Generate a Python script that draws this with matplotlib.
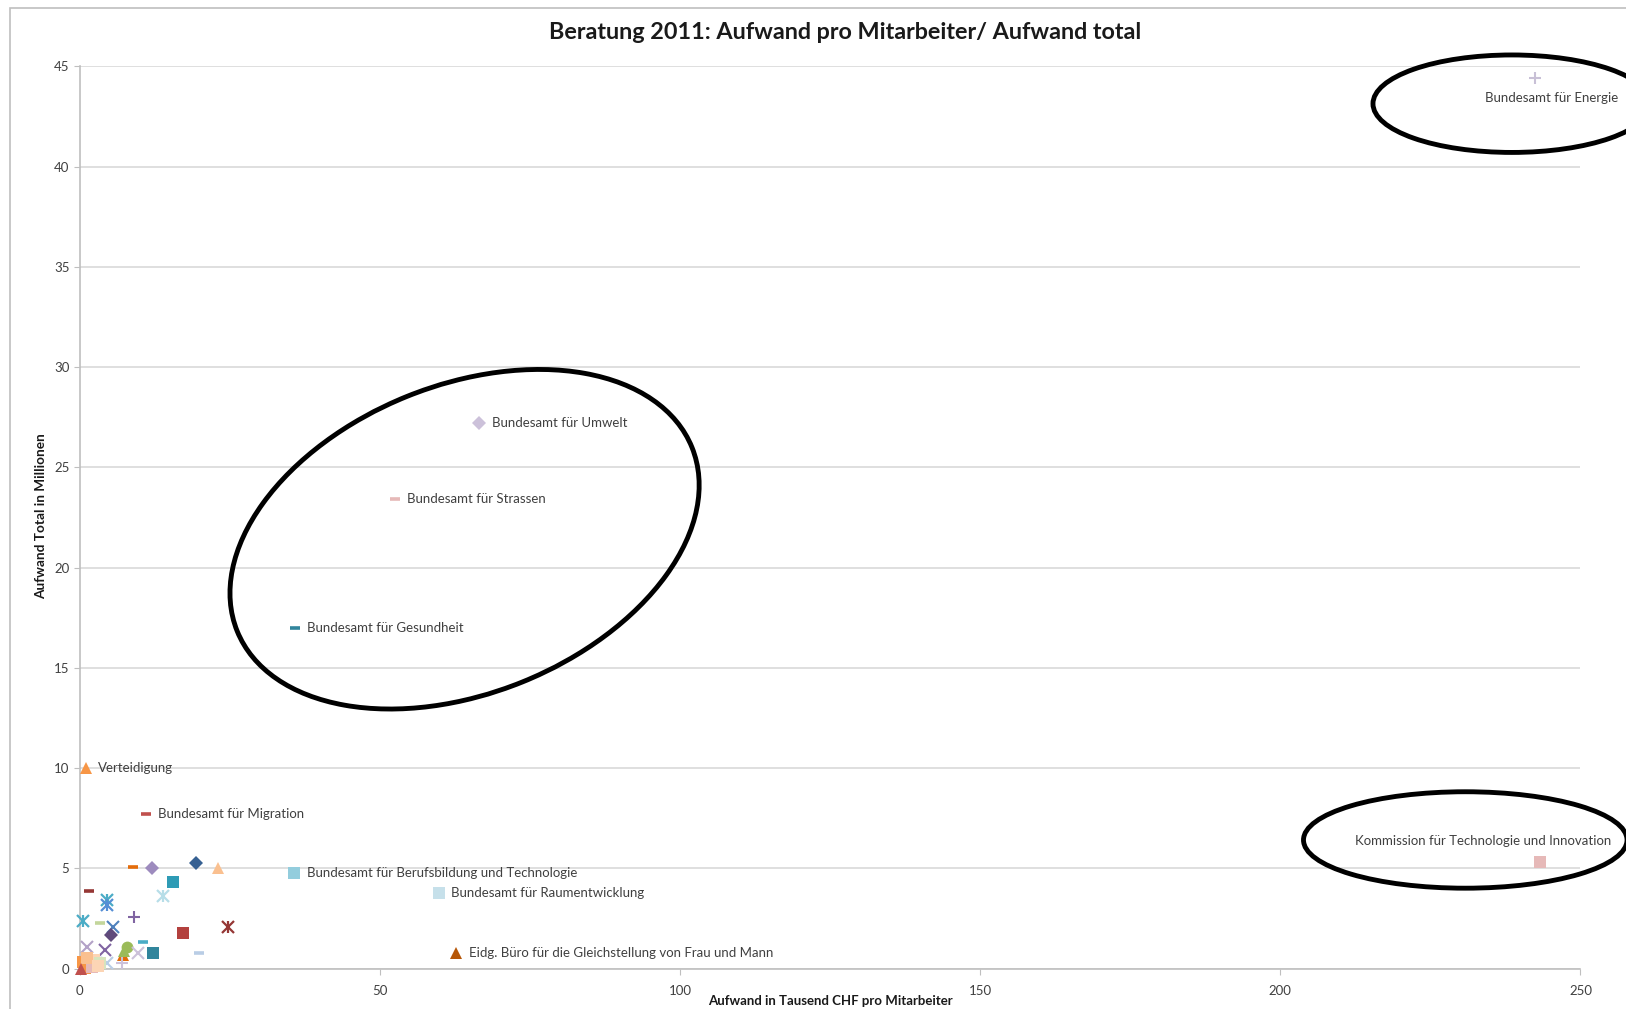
import matplotlib
matplotlib.use("Agg")
import matplotlib.pyplot as plt
from matplotlib.patches import Ellipse, Rectangle

plt.rcParams['font.family'] = ['Lato', 'DejaVu Sans']

title = "Beratung 2011: Aufwand pro Mitarbeiter/ Aufwand total"
x_label = "Aufwand in Tausend CHF pro Mitarbeiter"
y_label = "Aufwand Total in Millionen"

# labelled offices
names = ["Bundesamt für Energie",
         "Kommission für Technologie und Innovation",
         "Bundesamt für Umwelt",
         "Bundesamt für Strassen",
         "Bundesamt für Gesundheit",
         "Verteidigung",
         "Bundesamt für Migration",
         "Bundesamt für Berufsbildung und Technologie",
         "Bundesamt für Raumentwicklung",
         "Eidg. Büro für die Gleichstellung von Frau und Mann"]
lab_x = [242.4, 243.3, 66.5, 52.5, 35.8, 1.0, 11.0, 35.7, 59.8, 62.7]
lab_y = [44.4, 5.33, 27.2, 23.4, 17.0, 10.0, 7.7, 4.78, 3.78, 0.78]
lab_marker = ['+', 's', 'D', '_', '_', '^', '_', 's', 's', '^']
lab_color = ['#C8C0D6', '#E6B9B8', '#CCC1DA', '#E6B9B8', '#31859C', '#F79646',
             '#C0504D', '#93CDDD', '#C6E0EA', '#B65708']

# unlabelled offices (cluster near the origin)
cl_x = [8.9, 11.96, 19.3, 22.96, 15.6, 13.9, 1.57, 4.45, 4.45, 0.45, 3.35, 9.0,
        5.57, 5.13, 17.2, 24.7, 1.12, 4.2, 7.8, 10.46, 12.23, 19.9, 9.73, 7.23,
        6.96, 4.46, 0.6, 1.5, 2.4, 0.9, 3.35, 2.0, 1.2, 3.0, 0.2, 7.4]
cl_y = [5.05, 5.02, 5.25, 5.02, 4.33, 3.62, 3.89, 3.42, 3.17, 2.39, 2.29, 2.59,
        2.09, 1.68, 1.76, 2.09, 1.09, 0.93, 1.09, 1.34, 0.76, 0.79, 0.76, 0.68,
        0.26, 0.26, 0.35, 0.2, 0.45, 0.05, 0.26, 0.1, 0.55, 0.15, 0.0, 0.9]
cl_marker = ['_', 'D', 'D', '^', 's', 'star', '_', 'star', 'star', 'star', '_', '+',
             'x', 'D', 's', 'star', 'x', 'x', 'o', '_', 's', '_', 'x', '^',
             '+', 'x', 's', 's', 's', 's', 's', 's', 's', 's', '^', '^']
cl_color = ['#E46C0A', '#9D8BBE', '#366092', '#FAC090', '#2E9BB5', '#B7DEE8',
            '#953735', '#4BACC6', '#558ED5', '#4BACC6', '#C3D69B', '#8064A2',
            '#4F81BD', '#604A7B', '#B3413E', '#953735', '#B3A2C7', '#8064A2',
            '#9BBB59', '#4BACC6', '#31859C', '#B9CDE5', '#CCC1DA', '#E46C0A',
            '#CCC1DA', '#B9CDE5', '#F79646', '#FAC090', '#FCD5B5', '#F79646',
            '#D7E4BD', '#E6B9B8', '#FAC090', '#FCD5B5', '#C0504D', '#9BBB59']

# label offsets in points (dx, dy, ha)
lab_offset = [(60, -14, 'right'), (51, 15, 'right')] + [(9, 0, 'left')] * 8

fig = plt.figure(figsize=(16.26, 10.09), dpi=100)
ax = fig.add_axes([0.0491, 0.040, 0.9229, 0.8942])


def draw(ax, x, y, m, c):
    kw = dict(linestyle='none', clip_on=False, zorder=3)
    if m == 'star':
        ax.plot(x, y, marker='x', color=c, ms=8, mew=1.6, **kw)
        ax.plot(x, y, marker='|', color=c, ms=9, mew=1.6, **kw)
    elif m == '_':
        ax.plot(x, y, marker='_', color=c, ms=7, mew=2.6, **kw)
    elif m in ('+', 'x'):
        ax.plot(x, y, marker=m, color=c, ms=9, mew=1.5, **kw)
    elif m == 'D':
        ax.plot(x, y, marker='D', color=c, ms=7.5, mew=0, **kw)
    elif m == '^':
        ax.plot(x, y, marker='^', color=c, ms=9, mew=0, **kw)
    else:
        ax.plot(x, y, marker=m, color=c, ms=8.5, mew=0, **kw)


for x, y, m, c in zip(cl_x, cl_y, cl_marker, cl_color):
    draw(ax, x, y, m, c)

for n, x, y, m, c, (dx, dy, ha) in zip(names, lab_x, lab_y, lab_marker, lab_color, lab_offset):
    draw(ax, x, y, m, c)
    ax.annotate(n, (x, y), xytext=(dx, dy), textcoords='offset points',
                ha=ha, va='center', fontsize=9.5, color='#404040')

ax.set_xlim(0, 250)
ax.set_ylim(0, 45)
ax.set_xticks(range(0, 251, 50))
ax.set_yticks(range(0, 46, 5))
ax.grid(axis='y', color='#D9D9D9', lw=1.2)
ax.set_axisbelow(True)
for s in ['top', 'right']:
    ax.spines[s].set_visible(False)
for s in ['left', 'bottom']:
    ax.spines[s].set_color('#BFBFBF')
    ax.spines[s].set_linewidth(1.2)
ax.tick_params(length=4, color='#BFBFBF', labelsize=9.5, labelcolor='#404040')
ax.tick_params(axis='x', pad=8)

fig.text(0.52, 0.968, title, ha='center', va='center', fontsize=16.8, fontweight='bold', color='#1a1a1a')
fig.text(0.511, 0.008, x_label, ha='center', va='center', fontsize=9.5, fontweight='bold', color='#1a1a1a')
fig.text(0.0255, 0.488, y_label, ha='center', va='center', rotation=90, fontsize=9.8,
         fontweight='bold', color='#1a1a1a')

# overlay for the frame and the hand-drawn ellipses (pixel units of the 1568x973 view)
ov = fig.add_axes([0, 0, 1, 1], facecolor='none', zorder=10)
ov.set_xlim(0, 1568)
ov.set_ylim(0, 973)
ov.axis('off')
ov.add_patch(Rectangle((10, -20), 1600, 973 - 8 + 20, fill=False, ec='#BFBFBF', lw=1.2))
ov.add_patch(Ellipse((1458, 873), 268, 94, angle=0, fill=False, ec='black', lw=3.5, clip_on=False))
ov.add_patch(Ellipse((448, 453), 473, 297, angle=22, fill=False, ec='black', lw=3.5))
ov.add_patch(Ellipse((1413, 163), 312, 93, angle=0, fill=False, ec='black', lw=3.5, clip_on=False))

fig.savefig("out.png", dpi=100)
